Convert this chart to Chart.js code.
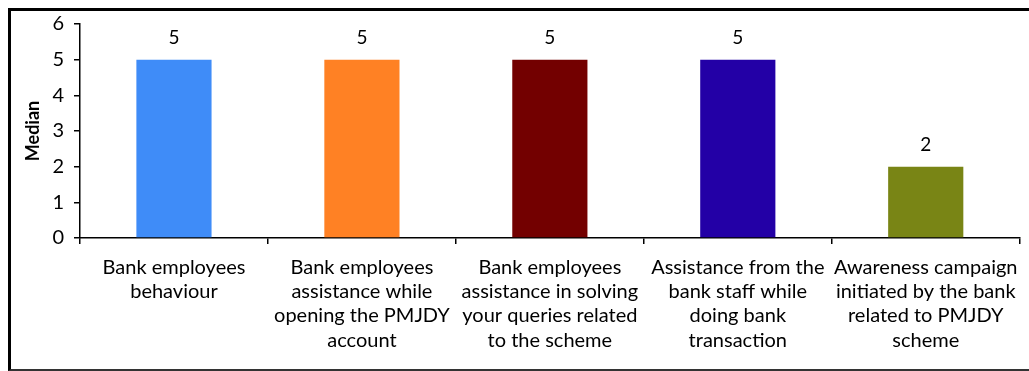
<!DOCTYPE html>
<html>
<head>
<meta charset="UTF-8">
<title>Median chart</title>
<style type="text/css">
html, body {
	margin: 0;
	padding: 0;
	background: #fff;
	overflow: hidden;
}
.frame {
	position: absolute;
	left: 8px;
	top: 8px;
	width: 1040px;
	height: 358px;
	border-top: 3px solid #000;
	border-left: 3px solid #000;
	border-bottom: 2px solid #333;
}
.holder {
	position: absolute;
	left: 0;
	top: 0;
	width: 1029px;
	height: 371px;
}
</style>
<script src="https://cdn.jsdelivr.net/npm/chart.js@4/dist/chart.umd.min.js"></script>
</head>
<body>
<div class="frame"></div>
<div class="holder"><canvas id="grafica"></canvas></div>
<script type="text/javascript">
	// Datos del grafico
	var categorias = [
		["Bank employees", "behaviour"],
		["Bank employees", "assistance while", "opening the PMJDY", "account"],
		["Bank employees", "assistance in solving", "your queries related", "to the scheme"],
		["Assistance from the", "bank staff while", "doing bank", "transaction"],
		["Awareness campaign", "initiated by the bank", "related to PMJDY", "scheme"]
	];
	var medianas = [5, 5, 5, 5, 2];
	var colores = ["#3f8cf8", "#ff8124", "#730000", "#2300a6", "#798515"];
	var ticksY = [0, 1, 2, 3, 4, 5, 6];

	var fuente = "Lato, 'Open Sans', sans-serif";

	// Pinta el valor encima de cada barra
	var etiquetasValor = {
		id: 'etiquetasValor',
		afterDatasetsDraw: function(chart) {
			var ctx = chart.ctx;
			var meta = chart.getDatasetMeta(0);
			ctx.save();
			ctx.fillStyle = '#000';
			ctx.font = '19px ' + fuente;
			ctx.textAlign = 'center';
			ctx.textBaseline = 'middle';
			meta.data.forEach(function(barra, i) {
				ctx.fillText(String(medianas[i]), barra.x, barra.y - 22);
			});
			ctx.restore();
		}
	};

	var ctx = document.getElementById('grafica').getContext('2d');
	var grafica = new Chart(ctx, {
		type: 'bar',
		data: {
			labels: categorias,
			datasets: [{
				data: medianas,
				backgroundColor: colores,
				borderWidth: 0,
				categoryPercentage: 1,
				barPercentage: 0.4
			}]
		},
		options: {
			responsive: true,
			maintainAspectRatio: false,
			animation: false,
			layout: { padding: { top: 24, right: 5, left: 22, bottom: 0 } },
			plugins: {
				legend: { display: false },
				tooltip: { enabled: false }
			},
			scales: {
				x: {
					offset: true,
					grid: {
						offset: true,
						drawOnChartArea: false,
						drawTicks: true,
						tickLength: 6,
						color: '#000',
						lineWidth: 1.5
					},
					border: { color: '#000', width: 1.5 },
					ticks: {
						color: '#000',
						maxRotation: 0,
						autoSkip: false,
						padding: 11,
						font: { family: fuente, size: 20, lineHeight: 1.22 }
					},
					afterFit: function(escala) { escala.height = 371 - 238; }
				},
				y: {
					min: 0,
					max: 6,
					afterBuildTicks: function(escala) {
						escala.ticks = ticksY.map(function(v) { return { value: v }; });
					},
					grid: {
						drawOnChartArea: false,
						drawTicks: true,
						tickLength: 6,
						color: '#000',
						lineWidth: 1.5
					},
					border: { color: '#000', width: 1.5 },
					ticks: {
						color: '#000',
						padding: 10,
						font: { family: fuente, size: 20 }
					},
					title: {
						display: true,
						text: 'Median',
						color: '#000',
						padding: { top: 0, bottom: 4 },
						font: { family: fuente, size: 18, weight: 'bold' }
					},
					afterFit: function(escala) { escala.width = 58; }
				}
			}
		},
		plugins: [etiquetasValor]
	});
</script>
</body>
</html>
